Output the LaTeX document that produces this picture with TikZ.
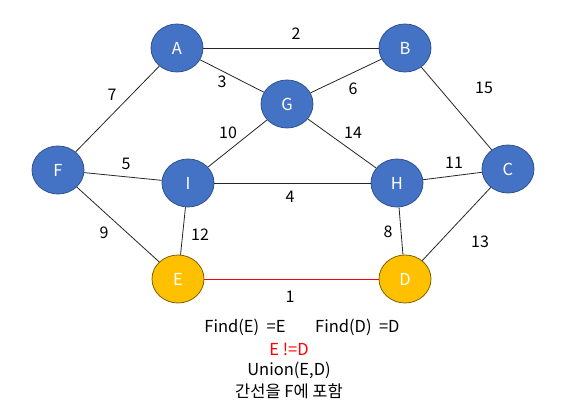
\documentclass[tikz,border=0pt]{standalone}
\usepackage{fontspec}
\setmainfont{Noto Sans CJK KR}
\usetikzlibrary{shapes.geometric}
\definecolor{nblue}{HTML}{4472C4}
\definecolor{nblueb}{HTML}{2F528F}
\definecolor{norange}{HTML}{FFC000}
\definecolor{norangeb}{HTML}{7F6000}
\begin{document}
\begin{tikzpicture}[x=1pt,y=-1pt,
  vtx/.style={ellipse,draw=nblueb,fill=nblue,line width=0.8pt,minimum width=52pt,minimum height=48pt,inner sep=0pt,text=white,font=\fontsize{16.5}{19}\selectfont},
  vtxo/.style={vtx,draw=norangeb,fill=norange},
  edge/.style={draw=black!85,line width=0.8pt},
  lbl/.style={font=\fontsize{16}{19}\selectfont,inner sep=0pt},
  txt/.style={font=\fontsize{16.5}{19}\selectfont,inner sep=0pt}]
\useasboundingbox (0,0) rectangle (574,419);
\node[vtx] (A) at (177,48) {A};
\node[vtx] (B) at (405,48) {B};
\node[vtx] (G) at (287,104) {G};
\node[vtx] (F) at (58,170) {F};
\node[vtx] (I) at (188,183) {I};
\node[vtx] (H) at (397,183) {H};
\node[vtx] (C) at (508,169) {C};
\node[vtxo] (E) at (178,279) {E};
\node[vtxo] (D) at (405,279) {D};
\draw[edge] (A) -- (B);
\draw[edge] (A) -- (G);
\draw[edge] (A) -- (F);
\draw[edge] (B) -- (G);
\draw[edge] (B) -- (C);
\draw[edge] (G) -- (I);
\draw[edge] (G) -- (H);
\draw[edge] (F) -- (I);
\draw[edge] (F) -- (E);
\draw[edge] (I) -- (H);
\draw[edge] (I) -- (E);
\draw[edge] (H) -- (C);
\draw[edge] (H) -- (D);
\draw[edge] (C) -- (D);
\draw[draw=red,line width=0.8pt] (E) -- (D);
\node[lbl] (l2) at (296,34) {2};
\node[lbl] (l3) at (222,82) {3};
\node[lbl] (l6) at (353,89) {6};
\node[lbl] (l7) at (112,95) {7};
\node[lbl] (l15) at (484,88) {15};
\node[lbl] (l10) at (228,133) {10};
\node[lbl] (l14) at (353,133) {14};
\node[lbl] (l5) at (126,164) {5};
\node[lbl] (l11) at (454,163) {11};
\node[lbl] (l4) at (290,197) {4};
\node[lbl] (l9) at (104,233) {9};
\node[lbl] (l12) at (200,235) {12};
\node[lbl] (l8) at (388,232) {8};
\node[lbl] (l13) at (480,242) {13};
\node[lbl] (l1) at (290,297) {1};
\node[txt] (t1) at (302,327) {Find(E)\ \ =E\hspace{1.8em}Find(D)\ \ =D};
\node[txt,text=red] (t2) at (289,349) {E !=D};
\node[txt] (t3) at (289,370) {Union(E,D)};
\node[txt] (t4) at (289,391) {간선을 F에 포함};
\end{tikzpicture}
\end{document}
